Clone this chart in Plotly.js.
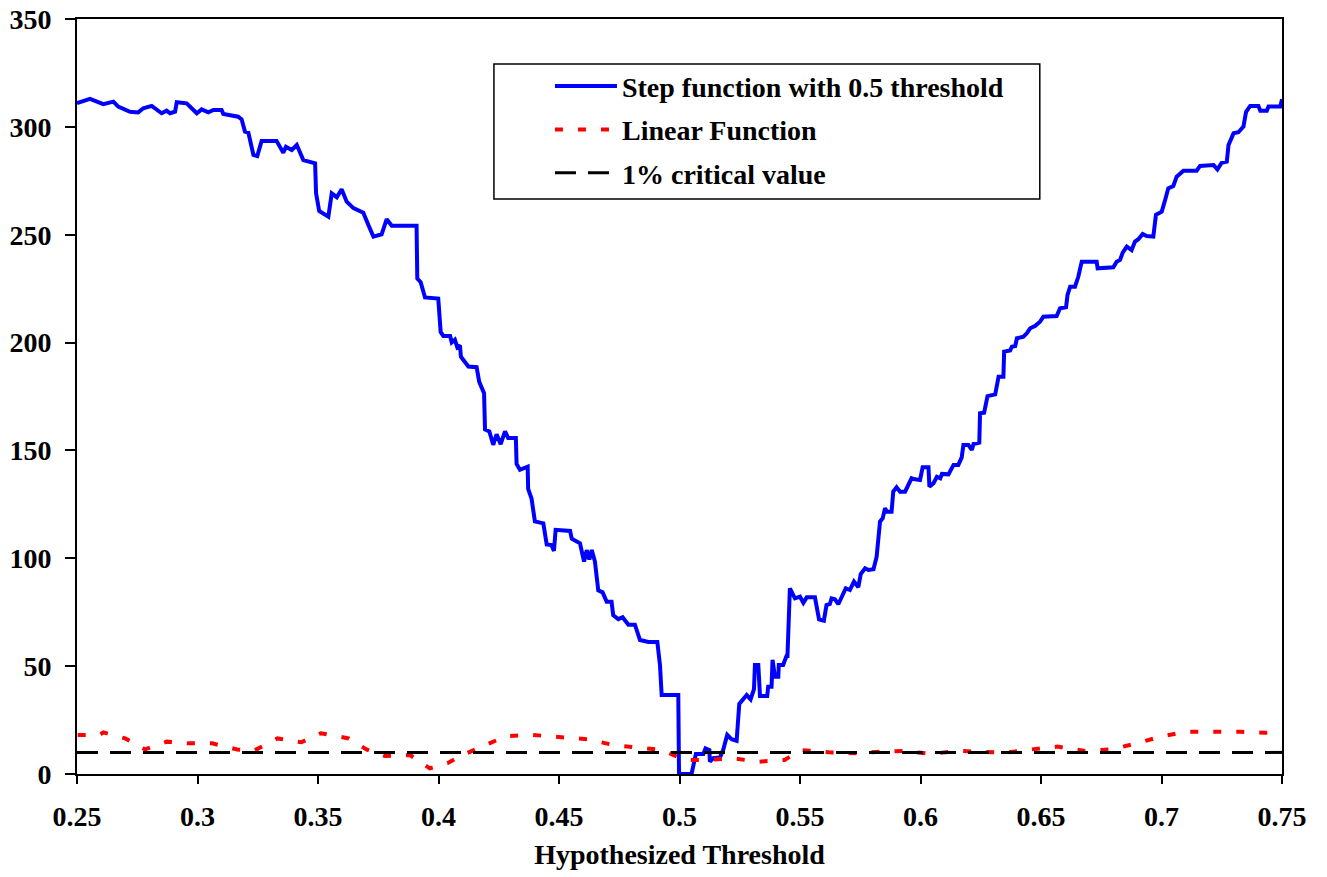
<!DOCTYPE html>
<html>
<head>
<meta charset="utf-8">
<script src="https://cdn.plot.ly/plotly-3.0.1.min.js"></script>
<style>
  html, body { margin: 0; padding: 0; background: #fff; }
  #chart { width: 1327px; height: 877px; }
</style>
</head>
<body>
<div id="chart"></div>
<script>
// Step function with 0.5 threshold (blue)
const stepX = [0.250,0.2554,0.2609,0.2651,0.2671,0.272,0.2754,0.2775,0.281,0.2851,0.2872,0.2886,0.2907,0.2914,0.2955,0.2997,0.3017,0.3045,0.3066,0.31,0.3107,0.3169,0.3183,0.3197,0.3211,0.3232,0.3248,0.3266,0.3328,0.3356,0.3367,0.3391,0.3412,0.3439,0.3488,0.3492,0.3505,0.3543,0.3557,0.3578,0.3598,0.3619,0.3647,0.3688,0.3709,0.373,0.3764,0.3785,0.3806,0.3909,0.3912,0.3926,0.3944,0.3999,0.4009,0.402,0.4048,0.4055,0.4068,0.4078,0.4089,0.4093,0.4124,0.4158,0.4169,0.4189,0.4193,0.4211,0.4227,0.4241,0.4258,0.4276,0.4289,0.4321,0.4324,0.4338,0.437,0.4372,0.4386,0.44,0.4435,0.4449,0.4469,0.4479,0.4486,0.4546,0.4553,0.4587,0.4604,0.4615,0.4626,0.4636,0.4649,0.4663,0.4681,0.4698,0.4718,0.4725,0.4746,0.4764,0.4788,0.4815,0.4836,0.4871,0.4908,0.4919,0.4926,0.4995,0.4998,0.505,0.5068,0.5099,0.5108,0.5124,0.5126,0.514,0.5168,0.5181,0.5198,0.5216,0.5237,0.5248,0.5279,0.5295,0.5309,0.5313,0.5327,0.5334,0.5364,0.5368,0.5382,0.5386,0.5396,0.541,0.5412,0.543,0.5444,0.5448,0.5458,0.5479,0.55,0.5514,0.5528,0.5562,0.5579,0.5599,0.561,0.5624,0.5631,0.5645,0.5659,0.5679,0.569,0.5707,0.5724,0.5742,0.5752,0.577,0.5784,0.5805,0.5818,0.5832,0.5843,0.5853,0.586,0.588,0.5887,0.5901,0.5915,0.5936,0.5963,0.5977,0.5998,0.6009,0.6033,0.6037,0.6054,0.6068,0.6082,0.6089,0.6116,0.6137,0.6157,0.6171,0.6178,0.6199,0.6213,0.622,0.6244,0.6247,0.6264,0.6278,0.631,0.6324,0.6344,0.6347,0.6372,0.6379,0.6393,0.64,0.6427,0.6441,0.6455,0.6475,0.6496,0.651,0.6565,0.6579,0.6604,0.661,0.6621,0.6641,0.6655,0.6669,0.6731,0.6735,0.68,0.6814,0.6828,0.6839,0.6856,0.6876,0.689,0.6904,0.6922,0.6939,0.6966,0.6977,0.7001,0.7015,0.7028,0.7049,0.7063,0.7091,0.7146,0.716,0.7216,0.7232,0.725,0.7271,0.7278,0.7299,0.7319,0.734,0.7351,0.7368,0.7402,0.741,0.7437,0.7444,0.7493,0.75];
const stepY = [311,313,310.5,311.7,309.4,307,306.7,308.6,309.7,306.3,307.5,306.3,307,311.4,310.9,306.3,308.1,306.7,307.8,307.8,306,304.7,303.5,297.8,297.3,287,286.5,293.5,293.5,288,290.8,289.3,291.6,284.6,283.1,269.2,261,258.4,269.2,267.4,271.1,265.3,262.3,260.2,254.5,249.1,250.2,257.2,254.2,254.2,229.7,228,220.9,220.4,204.9,203.1,203.1,200.1,201.3,197.8,198.7,193.4,188.9,188.6,181.8,176.5,159.7,158.8,152.6,157.5,152.9,158.8,155.8,155.8,143.7,141,142.5,132.2,127.7,117.1,116.2,106.4,106.1,103.4,113.2,112.7,109.1,107,98.5,103.8,99.4,103.8,98.5,85.1,84.2,79.8,79.8,73.6,71.8,72.7,69.2,69.2,62.1,61.2,61.2,50.5,36.6,36.6,0,0,9.3,9.3,11.9,11.1,5.7,7.3,7.7,11.1,18.1,16.1,15.4,32.5,36.6,34.6,39.3,50.5,50.5,36.2,36.2,40.5,40.5,52.9,45.1,45.1,50.5,50.5,54.7,54.7,86.1,81.4,82.2,79.4,81.9,81.9,71.7,71.1,78.3,78.8,81.4,81,78.7,83,86.1,85.3,89.2,86.6,92.7,95.4,94.6,94.9,100.7,117,118.5,123.2,121.6,121.6,130.9,132.9,130.9,130.9,137.1,136.6,136.3,142.2,142.2,133.2,134.8,137.8,137.1,139.1,138.9,143.3,143.3,146.8,152.5,152.5,150.2,153,153.6,167.2,167.5,175.2,176,184.2,184.2,195.8,196.3,198.1,198.4,202,202.7,204.3,206.6,207.7,209.7,212,212.3,215.9,216.4,222.1,225.9,225.9,230.6,237.5,237.5,234.4,234.9,237.5,238.3,241.7,244.5,242.9,246.8,247.9,250.3,249.4,249.1,259.2,260.7,266.1,271.5,272.6,276.9,279.7,279.7,281.9,282.3,280.3,283.4,283.9,291.6,297,297.5,300.1,307,309.7,309.7,307.5,307.5,309.4,309.4,312.8];

// Linear Function (red dotted)
const linX = [0.2503,0.2593,0.261,0.27,0.2782,0.2873,0.2963,0.3061,0.3164,0.3234,0.3332,0.3431,0.3512,0.3627,0.3701,0.3778,0.3882,0.3964,0.4037,0.409,0.4185,0.4283,0.439,0.4505,0.462,0.4726,0.4841,0.4931,0.5019,0.5119,0.5219,0.5328,0.5436,0.5502,0.5619,0.5736,0.5833,0.5928,0.6044,0.6152,0.6261,0.6356,0.6461,0.6569,0.6683,0.6795,0.6895,0.6995,0.7103,0.7211,0.7328,0.7428,0.75];
const linY = [18.1,18.1,19.3,16.5,11.4,15,14.2,14.2,11.4,10.8,16.5,14.7,18.9,16.5,11.4,8.3,8.8,2.6,5,8.3,13,17.6,18.1,17,16.1,13.4,11.9,11.1,6.5,6.5,7.3,5.7,6.5,11.1,10.1,9.6,10.3,10.7,9.3,10.7,10.3,9.9,11.4,12.7,10.7,11.4,14.2,17.3,19.6,19.6,19.6,19.1,19.5];

// 1% critical value
const critX = [0.25, 0.75];
const critY = [10, 10];

const xTicks = [0.25,0.3,0.35,0.4,0.45,0.5,0.55,0.6,0.65,0.7,0.75];
const xTickText = ['0.25','0.3','0.35','0.4','0.45','0.5','0.55','0.6','0.65','0.7','0.75'];
const yTicks = [0,50,100,150,200,250,300,350];

const seriesNames = ['Step function with 0.5 threshold','Linear Function','1% critical value'];

const FONT = {family: 'Liberation Serif, Times New Roman, DejaVu Serif, serif', size: 28, color: '#000', weight: 'bold'};

const traces = [
  {x: stepX, y: stepY, type: 'scatter', mode: 'lines', name: seriesNames[0], legendgroup: 'a',
   line: {color: '#0000FF', width: 4}},
  {x: linX, y: linY, type: 'scatter', mode: 'lines', name: seriesNames[1], legendgroup: 'b',
   line: {color: '#FF0000', width: 4, dash: '8px,15px'}},
  {x: critX, y: critY, type: 'scatter', mode: 'lines', name: seriesNames[2], legendgroup: 'c',
   line: {color: '#000000', width: 3, dash: '21px,12px'}}
];

const layout = {
  width: 1327, height: 877,
  margin: {l: 77, r: 45, t: 19, b: 103},
  paper_bgcolor: '#fff', plot_bgcolor: '#fff',
  font: FONT,
  showlegend: true,
  legend: {
    x: 0.3925, y: 0.944, xanchor: 'left', yanchor: 'top',
    bgcolor: 'rgba(0,0,0,0)', borderwidth: 0,
    font: FONT, itemwidth: 62, traceorder: 'grouped', tracegroupgap: 4
  },
  xaxis: {
    range: [0.25, 0.75], tickmode: 'array', tickvals: xTicks, ticktext: xTickText,
    showgrid: false, zeroline: false, showline: true, linecolor: '#000', linewidth: 2, mirror: true,
    ticks: 'outside', ticklen: 8, tickwidth: 2, tickcolor: '#000',
    tickfont: FONT, ticklabelstandoff: 8,
    title: {text: 'Hypothesized Threshold', font: FONT, standoff: 14}
  },
  yaxis: {
    range: [0, 350], tickmode: 'array', tickvals: yTicks,
    showgrid: false, zeroline: false, showline: true, linecolor: '#000', linewidth: 2, mirror: true,
    ticks: 'outside', ticklen: 10, tickwidth: 2, tickcolor: '#000',
    tickfont: FONT, ticklabelstandoff: 8
  },
  shapes: [
    {type: 'rect', xref: 'paper', yref: 'paper', x0: 0.346, x1: 0.799, y0: 0.7616, y1: 0.9404,
     line: {color: '#000', width: 1.5}, fillcolor: 'rgba(0,0,0,0)', layer: 'above'}
  ]
};

Plotly.newPlot('chart', traces, layout, {displayModeBar: false, staticPlot: true});
</script>
</body>
</html>
